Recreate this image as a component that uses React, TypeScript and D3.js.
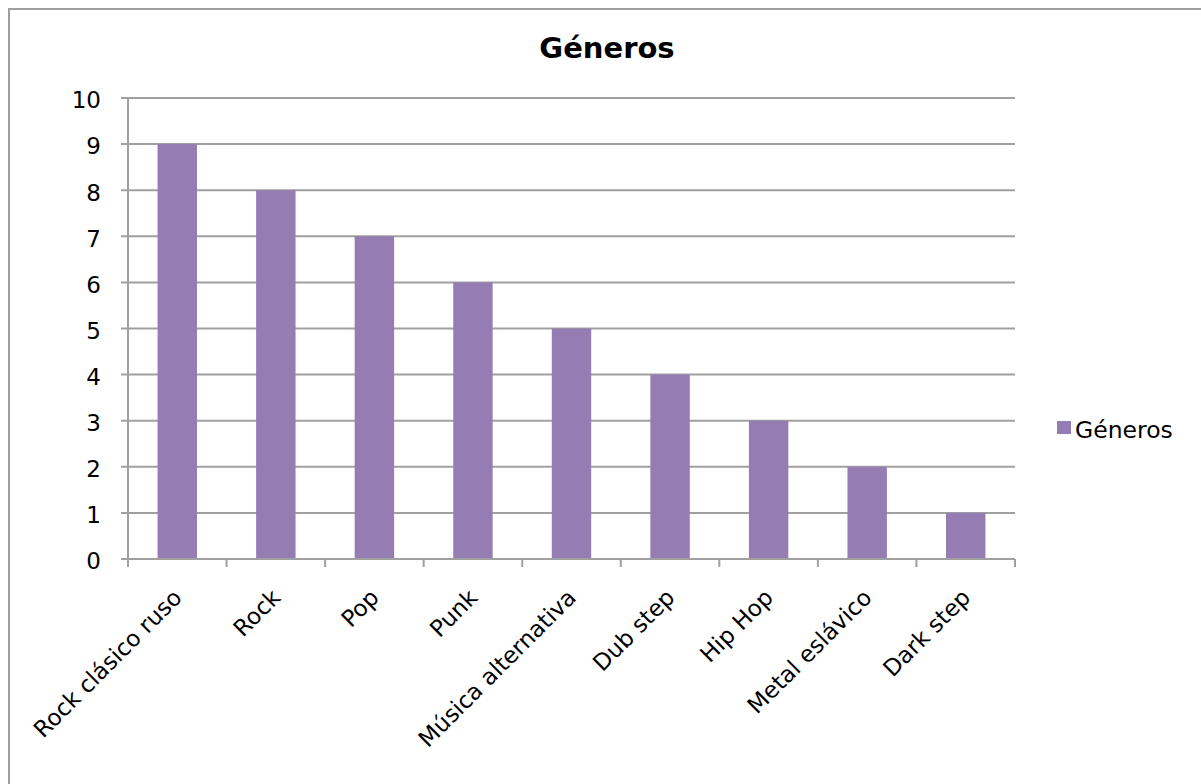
import React from "react";
import * as d3 from "d3";

const categories = [
  "Rock clásico ruso",
  "Rock",
  "Pop",
  "Punk",
  "Música alternativa",
  "Dub step",
  "Hip Hop",
  "Metal eslávico",
  "Dark step",
];
const values = [9, 8, 7, 6, 5, 4, 3, 2, 1];
const yTicks = [0, 1, 2, 3, 4, 5, 6, 7, 8, 9, 10];
const seriesName = "Géneros";
const title = "Géneros";

const W = 1201;
const H = 784;
const FONT = "'DejaVu Sans', Verdana, sans-serif";
const GRID = "#A0A0A0";
const BAR = "#957DB3";

export default function App() {
  const left = 128;
  const right = 1015;
  const top = 98;
  const bottom = 559;

  const x = d3
    .scaleBand<string>()
    .domain(categories)
    .range([left, right])
    .paddingInner(0.6)
    .paddingOuter(0.3);
  const y = d3.scaleLinear().domain([0, 10]).range([bottom, top]);
  const step = (right - left) / categories.length;
  const boundaries = d3.range(categories.length + 1).map((i) => left + i * step);

  return (
    <svg
      width={W}
      height={H}
      style={{ position: "absolute", left: 0, top: 0, background: "#fff" }}
      fontFamily={FONT}
    >
      {/* chart area frame */}
      <rect x={9} y={9} width={W + 20} height={H + 20} fill="#fff" stroke="#9E9E9E" strokeWidth={2} />

      <text x={607} y={58} textAnchor="middle" fontSize={29} fontWeight="bold" fill="#000">
        {title}
      </text>

      {/* gridlines and y ticks */}
      {yTicks.map((t) => (
        <g key={t}>
          <line x1={left - 7} x2={right} y1={y(t)} y2={y(t)} stroke={GRID} strokeWidth={2} />
          <text x={101} y={y(t)} dy="0.45em" textAnchor="end" fontSize={23} fill="#000">
            {t}
          </text>
        </g>
      ))}

      {/* y axis line */}
      <line x1={left} x2={left} y1={top} y2={bottom} stroke={GRID} strokeWidth={2} />

      {/* bars */}
      {categories.map((c, i) => (
        <rect
          key={c}
          x={x(c)!}
          y={y(values[i])}
          width={x.bandwidth()}
          height={y(0) - y(values[i])}
          fill={BAR}
        />
      ))}

      {/* x axis line and ticks */}
      <line x1={left} x2={right} y1={bottom} y2={bottom} stroke={GRID} strokeWidth={2} />
      {boundaries.map((b, i) => (
        <line key={i} x1={b} x2={b} y1={bottom} y2={bottom + 8} stroke={GRID} strokeWidth={2} />
      ))}

      {/* category labels */}
      {categories.map((c) => {
        const cx = x(c)! + x.bandwidth() / 2;
        return (
          <text
            key={c}
            transform={`translate(${cx + 6},${599}) rotate(-45)`}
            textAnchor="end"
            fontSize={23}
            fill="#000"
          >
            {c}
          </text>
        );
      })}

      {/* legend */}
      <rect x={1057} y={421} width={14} height={13} fill={BAR} />
      <text x={1075} y={438} fontSize={23.5} fill="#000">
        {seriesName}
      </text>
    </svg>
  );
}
